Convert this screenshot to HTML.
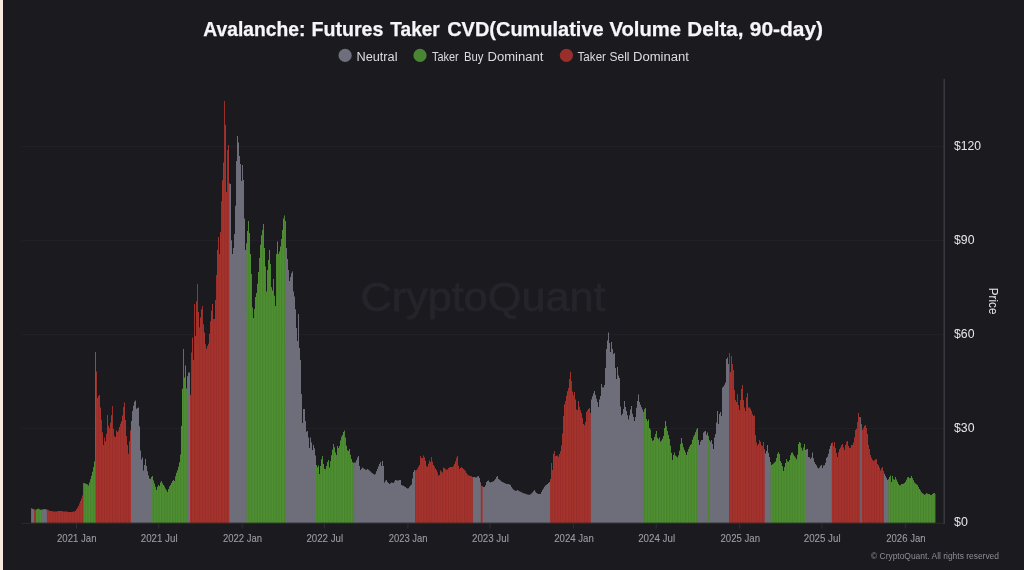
<!DOCTYPE html>
<html lang="en">
<head>
<meta charset="utf-8">
<title>Avalanche: Futures Taker CVD(Cumulative Volume Delta, 90-day)</title>
<style>
html,body{margin:0;padding:0;background:#1b1a1f;overflow:hidden}
body{width:1024px;height:570px;position:relative;font-family:"Liberation Sans",sans-serif}
#strip{position:absolute;left:0;top:0;width:3px;height:570px;background:#f8ece1}
svg{position:absolute;left:0;top:0;display:block}
svg text{font-family:"Liberation Sans",sans-serif}
.n{fill:#6e6e7a}.b{fill:#509132}.s{fill:#a8332e}
.title{font-size:20.5px;font-weight:700;fill:#f6f6f8;stroke:#f6f6f8;stroke-width:.25px}
.leg{font-size:12.5px;fill:#dcdce0}
.xl{font-size:10.9px;fill:#9c9ca3;stroke:#9c9ca3;stroke-width:.1px}
.yl{font-size:12.5px;fill:#e6e6ea}
.wm{font-size:41px;fill:#25242a;stroke:#25242a;stroke-width:0.8px}
.cr{font-size:9.2px;fill:#8c8c94}
.pr{font-size:13px;fill:#e4e4e8}
</style>
</head>
<body>
<div id="strip"></div>
<svg width="1024" height="570" viewBox="0 0 1024 570">
<defs>
<pattern id="st" width="2.73" height="8" patternUnits="userSpaceOnUse"><rect x="0" y="0" width="1.25" height="8" fill="#000" fill-opacity="0.1"/></pattern>
<filter id="bl" x="0" y="0" width="1024" height="570" filterUnits="userSpaceOnUse"><feGaussianBlur stdDeviation="0.4"/></filter>
<filter id="bt" x="0" y="0" width="1024" height="570" filterUnits="userSpaceOnUse"><feGaussianBlur stdDeviation="0.3"/></filter>
<clipPath id="cp"><path d="M34.2 522.8L34.2 509.5H35L35 509.8H35.9V522.8Z M35.9 522.8L35.9 509.8H36L36 509.6H37L37 508.9H38L38 508.5H39L39 509.2H40L40 509.8H41L41 509.8H41.5V522.8Z M46.9 522.8L46.9 509.4H47L47 509.8H48L48 510.2H49L49 510.8H50L50 511.1H51L51 511.1H52L52 511.2H53L53 511.4H54L54 511.4H55L55 511.4H56L56 511.4H57L57 511.2H58L58 511.1H59L59 511.1H60L60 511H61L61 511.1H62L62 511.2H63L63 511.4H64L64 511.4H65L65 511.6H66L66 511.6H67L67 511.8H68L68 511.9H69L69 511.9H70L70 511.9H71L71 511.9H72L72 511.8H73L73 511.6H74L74 511.6H75L75 510.8H76L76 509.2H77L77 507.8H78L78 505.9H79L79 503.6H80L80 501.1H81L81 498.4H82L82 495.5H83L83 483H83.4V522.8Z M83.4 522.8L83.4 483H84L84 483.3H85L85 483.6H86L86 483.9H87L87 484.5H88L88 485.5H89L89 482.5H90L90 479.2H91L91 475.8H92L92 471.7H93L93 467H94L94 461.5H95L95 352H95.6V522.8Z M95.6 522.8L95.6 352H96L96 371.5H97L97 398H98L98 396H99L99 395H100L100 407.5H101L101 419.8H102L102 432.3H103L103 445H104L104 437.5H105L105 441.2H106L106 433.7H107L107 415H108L108 425.7H109L109 428.2H110L110 422.8H111L111 415.3H112L112 406H113L113 429H114L114 436.3H115L115 436.9H116L116 430.6H117L117 431.9H118L118 430.6H119L119 426.9H120L120 423.8H121L121 421.2H122L122 415.6H123L123 406.9H124L124 402.5H125L125 420H126L126 436H127L127 444.9H128L128 453.8H129L129 441.2H130L130 430.3H131V522.8Z M152.2 522.8L152.2 476H153L153 480.5H154L154 483.5H155L155 486.7H156L156 490H157L157 486.7H158L158 485H159L159 485.9H160L160 482.6H161L161 481H162L162 483.2H163L163 484.9H164L164 486.6H165L165 488.4H166L166 490.2H167L167 492H168L168 489H169L169 486.6H170L170 484.9H171L171 483H172L172 481H173L173 480H174L174 481H175L175 476.3H176L176 472.8H177L177 470.2H178L178 466.8H179L179 462.2H180L180 454.5H181L181 426H182L182 388.8H183L183 349H184L184 377.4H185L185 365.6H186L186 388.5H186.9V522.8Z M190 522.8L190 395H191L191 352.5H192L192 337.5H193L193 360H194L194 304H195L195 336H196L196 301.3H197L197 284H198L198 312.1H199L199 327.5H200L200 317.5H201L201 309.2H202L202 306H203L203 324.2H204L204 332.5H205L205 344.2H206L206 348.7H207L207 346H208L208 343.7H209L209 333.8H210L210 321.2H211L211 310.8H212L212 304H213L213 319H214L214 319H215L215 300H216L216 275H217L217 249.7H218L218 237H219L219 254H220L220 232H221L221 201.3H222L222 180.2H223L223 162.6H224L224 101H225L225 124.8H226L226 192H227L227 150H228L228 145H229L229 183.5H229.2V522.8Z M246.6 522.8L246.6 243.5H247L247 231H248L248 221H249L249 233H250L250 254H251L251 274H252L252 307.6H253L253 318H254L254 309H255L255 297H256L256 293H257L257 283.7H258L258 272H259L259 258H260L260 244.7H261L261 235.3H262L262 230H263L263 224H264L264 248H265L265 266.5H266L266 291.5H267L267 270H268L268 260H269L269 250H270L270 264H271L271 287.2H272L272 290.5H273L273 279H274L274 295.8H275L275 306H276L276 254H277L277 241.5H278L278 254H279L279 251.5H280L280 246.5H281L281 239H282L282 230H283L283 218.5H284L284 215.6H285L285 221H285.9V522.8Z M316 522.8L316 465H317L317 467.3H318L318 465.6H319L319 474H320L320 466H321L321 459.3H322L322 456H323L323 464H324L324 468.7H325L325 469.3H326L326 466H327L327 462H328L328 460H329L329 467.5H330L330 461H331L331 455.3H332L332 449.7H333L333 444H334L334 447.3H335L335 452.5H336L336 455H337L337 446H338L338 448H339L339 446.1H340L340 440.4H341L341 436.7H342L342 435H343L343 432.1H344L344 430.6H345L345 437.5H346L346 445.8H347L347 450.3H348L348 451H349L349 449H350L350 454.7H351L351 459H352L352 462H353L353 462.7H354L354 462.8H354.1V522.8Z M415.2 522.8L415.2 470.7H416L416 470.1H417L417 468.4H418L418 466.7H419L419 465H420L420 456H421L421 458H422L422 457.9H423L423 455.6H424L424 457.2H425L425 460.7H426L426 466H427L427 466.7H428L428 463.8H429L429 460.6H430L430 462H431L431 457H432L432 461.7H433L433 464.9H434L434 466.6H435L435 468.4H436L436 470.1H437L437 472.5H438L438 475.5H439L439 474.9H440L440 470.6H441L441 471.6H442L442 472.5H443L443 467.5H444L444 468.2H445L445 469H446L446 469.7H447L447 469.4H448L448 468.1H449L449 467.4H450L450 467.1H451L451 467H452L452 467H453L453 466H454L454 464H455L455 461.2H456L456 457.8H457L457 456H458L458 465.7H459L459 469H460L460 468H461L461 467H462L462 468H463L463 469H464L464 469.7H465L465 471H466L466 473H467L467 474.4H468L468 475.2H469L469 475.7H470L470 475.9H471L471 476.3H472L472 477H472.9V522.8Z M480.8 522.8L480.8 482.3H481L481 485.8H482L482 486.3H482.6V522.8Z M550.1 522.8L550.1 479H551L551 463H552L552 470H553L553 453.7H554L554 451H555L555 456H556L556 455.7H557L557 455.6H558L558 456.7H559L559 454H560L560 451.3H561L561 445.5H562L562 433.5H563L563 416H564L564 404.3H565L565 401H566L566 395.7H567L567 391.3H568L568 388H569L569 379H570L570 371.8H571L571 380.9H572L572 391.5H573L573 395.3H574L574 392H575L575 399.5H576L576 409.5H577L577 410H578L578 401H579L579 406.7H580L580 410.2H581L581 413.3H582L582 418H583L583 424H584L584 425.3H585L585 422H586L586 412H587L587 410.3H588L588 409H589L589 408H590L590 413H590.8V522.8Z M643.4 522.8L643.4 412H644L644 409.3H645L645 408H646L646 419H647L647 421.2H648L648 419.5H649L649 428H650L650 429.5H651L651 438H652L652 440.7H653L653 440.3H654L654 437H655L655 434H656L656 431H657L657 437.7H658L658 439.2H659L659 437.5H660L660 441.5H661L661 440.5H662L662 438.7H663L663 436H664L664 428H665L665 421H666L666 426.3H667L667 431H668L668 435H669L669 439H670L670 445.7H671L671 452.7H672L672 460H673L673 455H674L674 452.5H675L675 455.6H676L676 456.6H677L677 457.5H678L678 455.2H679L679 450.7H680L680 444H681L681 438H682L682 443.3H683L683 447.3H684L684 450H685L685 452.5H686L686 455H687L687 451.7H688L688 448.9H689L689 446.7H690L690 445.1H691L691 444H692L692 439.7H693L693 436.7H694L694 435H695L695 432.3H696L696 429.5H697L697 428H697.5V522.8Z M708.1 522.8L708.1 436H709L709 440.3H709.2V522.8Z M729.2 522.8L729.2 353H730L730 372H731L731 356H732L732 364H733L733 370H734L734 390H735L735 400H736L736 402H737L737 394H738L738 405H739L739 410H740L740 400H741L741 389H742L742 385H743L743 400H744L744 407.5H745L745 411H746L746 397.5H747L747 393H748L748 407.5H749L749 407.5H750L750 408.7H751L751 411H752L752 414.3H753L753 415.9H754L754 415.6H755L755 435H756L756 442.5H757L757 445.6H758L758 444H759L759 440H760L760 441.7H761L761 445.2H762L762 446H763L763 442H764L764 449.3H764.7V522.8Z M770.7 522.8L770.7 462H771L771 465H772L772 464.3H773L773 463.5H774L774 462.5H775L775 461.5H776L776 458H777L777 453.8H778L778 452H779L779 454H780L780 461H781L781 463H782L782 466.3H783L783 471H784L784 467H785L785 463H786L786 459H787L787 461.3H788L788 461.7H789L789 460H790L790 455.3H791L791 452.8H792L792 452.5H793L793 454.6H794L794 456.2H795L795 457.5H796L796 459.2H797L797 454.7H798L798 444H799L799 442H800L800 443H801L801 447.7H802L802 450.5H803L803 447.5H804L804 444H804.9V522.8Z M831.8 522.8L831.8 443.2H832L832 442.5H833L833 446H834L834 442H835L835 448H836L836 453H837L837 457H838L838 452.3H839L839 449.2H840L840 447.5H841L841 445.2H842L842 444H843L843 447.5H844L844 450H845L845 445H846L846 441.8H847L847 441H848L848 446H849L849 448H850L850 447.7H851L851 445H852L852 445H853L853 442.5H854L854 437.5H855L855 430H856L856 428.7H857L857 422H858L858 413H859L859 417H860L860 417.3H860.2V522.8Z M861.6 522.8L861.6 424.2H862L862 430H863L863 428H864L864 426H865L865 425H866L866 428H867L867 434H868L868 445H869L869 449H870L870 455H871L871 457.7H872L872 459.7H873L873 461H874L874 460.3H875L875 459.5H876L876 459H877L877 464H878L878 465.3H879L879 467.5H880L880 470.5H881L881 468.2H882L882 467H883L883 471H884V522.8Z M888.4 522.8L888.4 479.2H889L889 476.9H890L890 475.6H891L891 482H892L892 476H893L893 479.3H894L894 479.7H895L895 477H896L896 479.4H897L897 481.7H898L898 484H899L899 485.3H900L900 485.3H901L901 484H902L902 484H903L903 483.7H904L904 483H905L905 481.7H906L906 479.8H907L907 477.5H908L908 477H909L909 478.3H910L910 478H911L911 476H912L912 478H913L913 480.2H914L914 482.5H915L915 483.5H916L916 484.3H917L917 485H918L918 487H919L919 488.9H920L920 490.6H921L921 492.2H922L922 493.3H923L923 494H924L924 494.7H925L925 494.3H926L926 493H927L927 493.7H928L928 494H929L929 494H930L930 495.1H931L931 495.1H932L932 494H933L933 493.3H934L934 493H935L935 493.9H935.4V522.8Z"/></clipPath>
</defs>
<path d="M22 146.4H944M22 240.4H944M22 334.3H944M22 428.3H944" stroke="#232228" stroke-width="1" fill="none"/>
<text class="wm" x="360.6" y="311.2" textLength="245" lengthAdjust="spacingAndGlyphs">CryptoQuant</text>
<g filter="url(#bl)">
<g id="bars">
<path class="n" d="M31.1 522.8L31.1 508.2H32L32 508.8H33L33 509.2H34L34 509.5H34.7V522.8Z"/>
<path class="s" d="M34.2 522.8L34.2 509.5H35L35 509.8H36L36 509.6H36.4V522.8Z"/>
<path class="b" d="M35.9 522.8L35.9 509.8H36L36 509.6H37L37 508.9H38L38 508.5H39L39 509.2H40L40 509.8H41L41 509.8H42V522.8Z"/>
<path class="n" d="M41.5 522.8L41.5 509.8H42L42 509.5H43L43 509.2H44L44 509H45L45 509.2H46L46 509.4H47L47 509.8H47.4V522.8Z"/>
<path class="s" d="M46.9 522.8L46.9 509.4H47L47 509.8H48L48 510.2H49L49 510.8H50L50 511.1H51L51 511.1H52L52 511.2H53L53 511.4H54L54 511.4H55L55 511.4H56L56 511.4H57L57 511.2H58L58 511.1H59L59 511.1H60L60 511H61L61 511.1H62L62 511.2H63L63 511.4H64L64 511.4H65L65 511.6H66L66 511.6H67L67 511.8H68L68 511.9H69L69 511.9H70L70 511.9H71L71 511.9H72L72 511.8H73L73 511.6H74L74 511.6H75L75 510.8H76L76 509.2H77L77 507.8H78L78 505.9H79L79 503.6H80L80 501.1H81L81 498.4H82L82 495.5H83L83 483H83.9V522.8Z"/>
<path class="b" d="M83.4 522.8L83.4 483H84L84 483.3H85L85 483.6H86L86 483.9H87L87 484.5H88L88 485.5H89L89 482.5H90L90 479.2H91L91 475.8H92L92 471.7H93L93 467H94L94 461.5H95L95 352H96L96 371.5H96.1V522.8Z"/>
<path class="s" d="M95.6 522.8L95.6 352H96L96 371.5H97L97 398H98L98 396H99L99 395H100L100 407.5H101L101 419.8H102L102 432.3H103L103 445H104L104 437.5H105L105 441.2H106L106 433.7H107L107 415H108L108 425.7H109L109 428.2H110L110 422.8H111L111 415.3H112L112 406H113L113 429H114L114 436.3H115L115 436.9H116L116 430.6H117L117 431.9H118L118 430.6H119L119 426.9H120L120 423.8H121L121 421.2H122L122 415.6H123L123 406.9H124L124 402.5H125L125 420H126L126 436H127L127 444.9H128L128 453.8H129L129 441.2H130L130 430.3H131L131 421H131.5V522.8Z"/>
<path class="n" d="M131 522.8L131 421H132L132 411H133L133 405.7H134L134 401.8H135L135 400.6H136L136 408.8H137L137 407.9H138L138 407.5H139L139 426.2H140L140 450.5H141L141 459.5H142L142 457.5H143L143 470.6H144L144 465H145L145 459H146L146 466H147L147 471.3H148L148 475.5H149L149 478.5H150L150 479H151L151 477H152L152 476H152.8V522.8Z"/>
<path class="b" d="M152.2 522.8L152.2 476H153L153 480.5H154L154 483.5H155L155 486.7H156L156 490H157L157 486.7H158L158 485H159L159 485.9H160L160 482.6H161L161 481H162L162 483.2H163L163 484.9H164L164 486.6H165L165 488.4H166L166 490.2H167L167 492H168L168 489H169L169 486.6H170L170 484.9H171L171 483H172L172 481H173L173 480H174L174 481H175L175 476.3H176L176 472.8H177L177 470.2H178L178 466.8H179L179 462.2H180L180 454.5H181L181 426H182L182 388.8H183L183 349H184L184 377.4H185L185 365.6H186L186 388.5H187L187 376.3H187.4V522.8Z"/>
<path class="n" d="M186.9 522.8L186.9 388.5H187L187 376.3H188L188 372.5H189L189 372.5H190L190 395H190.5V522.8Z"/>
<path class="s" d="M190 522.8L190 395H191L191 352.5H192L192 337.5H193L193 360H194L194 304H195L195 336H196L196 301.3H197L197 284H198L198 312.1H199L199 327.5H200L200 317.5H201L201 309.2H202L202 306H203L203 324.2H204L204 332.5H205L205 344.2H206L206 348.7H207L207 346H208L208 343.7H209L209 333.8H210L210 321.2H211L211 310.8H212L212 304H213L213 319H214L214 319H215L215 300H216L216 275H217L217 249.7H218L218 237H219L219 254H220L220 232H221L221 201.3H222L222 180.2H223L223 162.6H224L224 101H225L225 124.8H226L226 192H227L227 150H228L228 145H229L229 183.5H229.7V522.8Z"/>
<path class="n" d="M229.2 522.8L229.2 183.5H230L230 184H231L231 240.2H232L232 254H233L233 248H234L234 234H235L235 205.7H236L236 161H237L237 136H238L238 142.5H239L239 156H240L240 164H241L241 181H242L242 165H243L243 180H244L244 218.5H245L245 250H246L246 243.5H247L247 231H247.1V522.8Z"/>
<path class="b" d="M246.6 522.8L246.6 243.5H247L247 231H248L248 221H249L249 233H250L250 254H251L251 274H252L252 307.6H253L253 318H254L254 309H255L255 297H256L256 293H257L257 283.7H258L258 272H259L259 258H260L260 244.7H261L261 235.3H262L262 230H263L263 224H264L264 248H265L265 266.5H266L266 291.5H267L267 270H268L268 260H269L269 250H270L270 264H271L271 287.2H272L272 290.5H273L273 279H274L274 295.8H275L275 306H276L276 254H277L277 241.5H278L278 254H279L279 251.5H280L280 246.5H281L281 239H282L282 230H283L283 218.5H284L284 215.6H285L285 221H286L286 248H286.4V522.8Z"/>
<path class="n" d="M285.9 522.8L285.9 221H286L286 248H287L287 259H288L288 270H289L289 281H290L290 277H291L291 273.2H292L292 271.5H293L293 291.5H294L294 296.5H295L295 309.3H296L296 328H297L297 341H298L298 314H299L299 348H300L300 360H301L301 394H302L302 423H303L303 409H304L304 409H305L305 421H306L306 431.7H307L307 431H308L308 437.5H309L309 448H310L310 437.5H311L311 442.5H312L312 450H313L313 445H314L314 448.3H315L315 455.5H316L316 465H316.5V522.8Z"/>
<path class="b" d="M316 522.8L316 465H317L317 467.3H318L318 465.6H319L319 474H320L320 466H321L321 459.3H322L322 456H323L323 464H324L324 468.7H325L325 469.3H326L326 466H327L327 462H328L328 460H329L329 467.5H330L330 461H331L331 455.3H332L332 449.7H333L333 444H334L334 447.3H335L335 452.5H336L336 455H337L337 446H338L338 448H339L339 446.1H340L340 440.4H341L341 436.7H342L342 435H343L343 432.1H344L344 430.6H345L345 437.5H346L346 445.8H347L347 450.3H348L348 451H349L349 449H350L350 454.7H351L351 459H352L352 462H353L353 462.7H354L354 462.8H354.6V522.8Z"/>
<path class="n" d="M354.1 522.8L354.1 462.8H355L355 462.5H356L356 460.2H357L357 457.5H358L358 456H359L359 466H360L360 470H361L361 468.8H362L362 467.5H363L363 468.2H364L364 469H365L365 469.7H366L366 469.7H367L367 469H368L368 469.8H369L369 470.6H370L370 471.5H371L371 472.5H372L372 473.3H373L373 474H374L374 474.7H375L375 473.8H376L376 471.2H377L377 468.8H378L378 466.2H379L379 464H380L380 462H381L381 466H382L382 461H383L383 466H384L384 482.5H385L385 480.8H386L386 480H387L387 481.9H388L388 483H389L389 484H390L390 483.2H391L391 482.5H392L392 482.8H393L393 483H394L394 481.5H395L395 480H396L396 480.2H397L397 480.5H398L398 480.5H399L399 480.1H400L400 480H401L401 485H402L402 485.4H403L403 485.8H404L404 486.4H405L405 487.1H406L406 487.9H407L407 488.6H408L408 488.2H409L409 486.8H410L410 485.5H411L411 484.5H412L412 478.5H413L413 472H414L414 470H415L415 470.7H415.7V522.8Z"/>
<path class="s" d="M415.2 522.8L415.2 470.7H416L416 470.1H417L417 468.4H418L418 466.7H419L419 465H420L420 456H421L421 458H422L422 457.9H423L423 455.6H424L424 457.2H425L425 460.7H426L426 466H427L427 466.7H428L428 463.8H429L429 460.6H430L430 462H431L431 457H432L432 461.7H433L433 464.9H434L434 466.6H435L435 468.4H436L436 470.1H437L437 472.5H438L438 475.5H439L439 474.9H440L440 470.6H441L441 471.6H442L442 472.5H443L443 467.5H444L444 468.2H445L445 469H446L446 469.7H447L447 469.4H448L448 468.1H449L449 467.4H450L450 467.1H451L451 467H452L452 467H453L453 466H454L454 464H455L455 461.2H456L456 457.8H457L457 456H458L458 465.7H459L459 469H460L460 468H461L461 467H462L462 468H463L463 469H464L464 469.7H465L465 471H466L466 473H467L467 474.4H468L468 475.2H469L469 475.7H470L470 475.9H471L471 476.3H472L472 477H473L473 477H473.4V522.8Z"/>
<path class="n" d="M472.9 522.8L472.9 477H473L473 477H474L474 477.1H475L475 477.4H476L476 477.2H477L477 476.6H478L478 476H479L479 478H480L480 482.3H481L481 485.8H481.2V522.8Z"/>
<path class="s" d="M480.8 522.8L480.8 482.3H481L481 485.8H482L482 486.3H483L483 487H483.1V522.8Z"/>
<path class="n" d="M482.6 522.8L482.6 486.3H483L483 487H484L484 487H485L485 485.3H486L486 482H487L487 481.1H488L488 480.6H489L489 482H490L490 482.4H491L491 482.1H492L492 481.8H493L493 481.2H494L494 480.3H495L495 479H496L496 477H497L497 476H498L498 479H499L499 479.7H500L500 480.5H501L501 481.5H502L502 482.1H503L503 482.4H504L504 482.9H505L505 483.6H506L506 484H507L507 484H508L508 484H509L509 484.5H510L510 485H511L511 487H512L512 488.5H513L513 489.5H514L514 490.2H515L515 490.8H516L516 490.7H517L517 490H518L518 490.7H519L519 491.2H520L520 491.8H521L521 492.2H522L522 492.8H523L523 493.2H524L524 493.5H525L525 493.8H526L526 494.2H527L527 494.5H528L528 494.8H529L529 494.8H530L530 494.2H531L531 493.5H532L532 492.5H533L533 491.3H534L534 490H535L535 491.7H536L536 492.9H537L537 493.6H538L538 494H539L539 494H540L540 494H541L541 492H542L542 490H543L543 488.4H544L544 486.8H545L545 485.6H546L546 484.8H547L547 484H548L548 483H549L549 482H550L550 479H550.6V522.8Z"/>
<path class="s" d="M550.1 522.8L550.1 479H551L551 463H552L552 470H553L553 453.7H554L554 451H555L555 456H556L556 455.7H557L557 455.6H558L558 456.7H559L559 454H560L560 451.3H561L561 445.5H562L562 433.5H563L563 416H564L564 404.3H565L565 401H566L566 395.7H567L567 391.3H568L568 388H569L569 379H570L570 371.8H571L571 380.9H572L572 391.5H573L573 395.3H574L574 392H575L575 399.5H576L576 409.5H577L577 410H578L578 401H579L579 406.7H580L580 410.2H581L581 413.3H582L582 418H583L583 424H584L584 425.3H585L585 422H586L586 412H587L587 410.3H588L588 409H589L589 408H590L590 413H591L591 399.5H591.3V522.8Z"/>
<path class="n" d="M590.8 522.8L590.8 413H591L591 399.5H592L592 396.2H593L593 393.3H594L594 391H595L595 395H596L596 398.7H597L597 402H598L598 407H599L599 399.5H600L600 396H601L601 384H602L602 387.3H603L603 387.5H604L604 385H605L605 368H606L606 349H607L607 340.5H608L608 332.4H609L609 343H610L610 352H611L611 342H612L612 349H613L613 354H614L614 353H615L615 368H616L616 379H617L617 367H618L618 375.5H619L619 378H620L620 406.5H621L621 415.2H622L622 413.8H623L623 409H624L624 401H625L625 407H626L626 411H627L627 415.2H628L628 419.5H629L629 415.2H630L630 409.5H631L631 406H632L632 413.7H633L633 417H634L634 421H635L635 417H636L636 407.7H637L637 401H638L638 394.5H639L639 402H640L640 404.7H641L641 407.2H642L642 409.5H643L643 412H643.9V522.8Z"/>
<path class="b" d="M643.4 522.8L643.4 412H644L644 409.3H645L645 408H646L646 419H647L647 421.2H648L648 419.5H649L649 428H650L650 429.5H651L651 438H652L652 440.7H653L653 440.3H654L654 437H655L655 434H656L656 431H657L657 437.7H658L658 439.2H659L659 437.5H660L660 441.5H661L661 440.5H662L662 438.7H663L663 436H664L664 428H665L665 421H666L666 426.3H667L667 431H668L668 435H669L669 439H670L670 445.7H671L671 452.7H672L672 460H673L673 455H674L674 452.5H675L675 455.6H676L676 456.6H677L677 457.5H678L678 455.2H679L679 450.7H680L680 444H681L681 438H682L682 443.3H683L683 447.3H684L684 450H685L685 452.5H686L686 455H687L687 451.7H688L688 448.9H689L689 446.7H690L690 445.1H691L691 444H692L692 439.7H693L693 436.7H694L694 435H695L695 432.3H696L696 429.5H697L697 428H698V522.8Z"/>
<path class="n" d="M697.5 522.8L697.5 428H698L698 440H699L699 445H700L700 441.7H701L701 440H702L702 440H703L703 432.5H704L704 431.5H705L705 431H706L706 434.8H707L707 432.5H708L708 436H708.6V522.8Z"/>
<path class="b" d="M708.1 522.8L708.1 436H709L709 440.3H709.7V522.8Z"/>
<path class="n" d="M709.2 522.8L709.2 440.3H710L710 441.7H711L711 440H712L712 444H713L713 449H714L714 437.5H715L715 434H716L716 422.5H717L717 411H718L718 424H719L719 414H720L720 412H721L721 416H722L722 387.5H723L723 386.5H724L724 384.8H725L725 382.5H726L726 359H727L727 357.5H728L728 364H729L729 353H729.7V522.8Z"/>
<path class="s" d="M729.2 522.8L729.2 353H730L730 372H731L731 356H732L732 364H733L733 370H734L734 390H735L735 400H736L736 402H737L737 394H738L738 405H739L739 410H740L740 400H741L741 389H742L742 385H743L743 400H744L744 407.5H745L745 411H746L746 397.5H747L747 393H748L748 407.5H749L749 407.5H750L750 408.7H751L751 411H752L752 414.3H753L753 415.9H754L754 415.6H755L755 435H756L756 442.5H757L757 445.6H758L758 444H759L759 440H760L760 441.7H761L761 445.2H762L762 446H763L763 442H764L764 449.3H765L765 453.5H765.2V522.8Z"/>
<path class="n" d="M764.7 522.8L764.7 449.3H765L765 453.5H766L766 451H767L767 445H768L768 453H769L769 457H770L770 462H771L771 465H771.2V522.8Z"/>
<path class="b" d="M770.7 522.8L770.7 462H771L771 465H772L772 464.3H773L773 463.5H774L774 462.5H775L775 461.5H776L776 458H777L777 453.8H778L778 452H779L779 454H780L780 461H781L781 463H782L782 466.3H783L783 471H784L784 467H785L785 463H786L786 459H787L787 461.3H788L788 461.7H789L789 460H790L790 455.3H791L791 452.8H792L792 452.5H793L793 454.6H794L794 456.2H795L795 457.5H796L796 459.2H797L797 454.7H798L798 444H799L799 442H800L800 443H801L801 447.7H802L802 450.5H803L803 447.5H804L804 444H805L805 450H805.4V522.8Z"/>
<path class="n" d="M804.9 522.8L804.9 444H805L805 450H806L806 449.3H807L807 449H808L808 457H809L809 457.3H810L810 458.8H811L811 457.5H812L812 452.5H813L813 458.2H814L814 462H815L815 464H816L816 465.3H817L817 467.5H818L818 468.5H819L819 467.5H820L820 465.8H821L821 465H822L822 467.9H823L823 465.6H824L824 465.2H825L825 462.7H826L826 458H827L827 456.7H828L828 453.7H829L829 449H830L830 445.7H831L831 443.2H832L832 442.5H832.2V522.8Z"/>
<path class="s" d="M831.8 522.8L831.8 443.2H832L832 442.5H833L833 446H834L834 442H835L835 448H836L836 453H837L837 457H838L838 452.3H839L839 449.2H840L840 447.5H841L841 445.2H842L842 444H843L843 447.5H844L844 450H845L845 445H846L846 441.8H847L847 441H848L848 446H849L849 448H850L850 447.7H851L851 445H852L852 445H853L853 442.5H854L854 437.5H855L855 430H856L856 428.7H857L857 422H858L858 413H859L859 417H860L860 417.3H860.7V522.8Z"/>
<path class="n" d="M860.2 522.8L860.2 417.3H861L861 424.2H862L862 430H862.1V522.8Z"/>
<path class="s" d="M861.6 522.8L861.6 424.2H862L862 430H863L863 428H864L864 426H865L865 425H866L866 428H867L867 434H868L868 445H869L869 449H870L870 455H871L871 457.7H872L872 459.7H873L873 461H874L874 460.3H875L875 459.5H876L876 459H877L877 464H878L878 465.3H879L879 467.5H880L880 470.5H881L881 468.2H882L882 467H883L883 471H884L884 473.7H884.5V522.8Z"/>
<path class="n" d="M884 522.8L884 473.7H885L885 476H886L886 478H887L887 480H888L888 479.2H888.9V522.8Z"/>
<path class="b" d="M888.4 522.8L888.4 479.2H889L889 476.9H890L890 475.6H891L891 482H892L892 476H893L893 479.3H894L894 479.7H895L895 477H896L896 479.4H897L897 481.7H898L898 484H899L899 485.3H900L900 485.3H901L901 484H902L902 484H903L903 483.7H904L904 483H905L905 481.7H906L906 479.8H907L907 477.5H908L908 477H909L909 478.3H910L910 478H911L911 476H912L912 478H913L913 480.2H914L914 482.5H915L915 483.5H916L916 484.3H917L917 485H918L918 487H919L919 488.9H920L920 490.6H921L921 492.2H922L922 493.3H923L923 494H924L924 494.7H925L925 494.3H926L926 493H927L927 493.7H928L928 494H929L929 494H930L930 495.1H931L931 495.1H932L932 494H933L933 493.3H934L934 493H935L935 493.9H935.4V522.8Z"/>
</g>
<rect x="30" y="90" width="910" height="433" fill="url(#st)" clip-path="url(#cp)"/>
</g>
<path d="M22 523.4H944.9" stroke="#2b2b31" stroke-width="1" fill="none"/>
<path d="M944.2 79V524" stroke="#3b3b43" stroke-width="1.4" fill="none"/>
<path d="M76.5 523v5.5M158.7 523v5.5M242.2 523v5.5M324.4 523v5.5M407.9 523v5.5M490 523v5.5M573.6 523v5.5M656.2 523v5.5M739.7 523v5.5M821.9 523v5.5M905.4 523v5.5" stroke="#2e2e35" stroke-width="1" fill="none"/>
<g filter="url(#bt)">
<circle cx="345.1" cy="55.4" r="6.6" fill="#6e6e7b"/>
<circle cx="420" cy="55.4" r="6.6" fill="#4a8531"/>
<circle cx="566.4" cy="55.4" r="6.6" fill="#9a2f2b"/>
<text class="title"><tspan x="203.36" y="35.9" textLength="102.07" lengthAdjust="spacingAndGlyphs">Avalanche:</tspan> <tspan x="311.45" y="35.9" textLength="71.98" lengthAdjust="spacingAndGlyphs">Futures</tspan> <tspan x="390.36" y="35.9" textLength="49.38" lengthAdjust="spacingAndGlyphs">Taker</tspan> <tspan x="447.18" y="35.9" textLength="156.44" lengthAdjust="spacingAndGlyphs">CVD(Cumulative</tspan> <tspan x="609.45" y="35.9" textLength="71.66" lengthAdjust="spacingAndGlyphs">Volume</tspan> <tspan x="687.38" y="35.9" textLength="56.02" lengthAdjust="spacingAndGlyphs">Delta,</tspan> <tspan x="749.77" y="35.9" textLength="73.30" lengthAdjust="spacingAndGlyphs">90-day)</tspan></text>
<text class="leg" x="356.45" y="61" textLength="41.08" lengthAdjust="spacingAndGlyphs">Neutral</text>
<text class="leg"><tspan x="432.00" y="61" textLength="26.76" lengthAdjust="spacingAndGlyphs">Taker</tspan> <tspan x="463.95" y="61" textLength="19.55" lengthAdjust="spacingAndGlyphs">Buy</tspan> <tspan x="487.48" y="61" textLength="56.02" lengthAdjust="spacingAndGlyphs">Dominant</tspan></text>
<text class="leg"><tspan x="577.50" y="61" textLength="28.50" lengthAdjust="spacingAndGlyphs">Taker</tspan> <tspan x="609.45" y="61" textLength="20.08" lengthAdjust="spacingAndGlyphs">Sell</tspan> <tspan x="632.99" y="61" textLength="56.02" lengthAdjust="spacingAndGlyphs">Dominant</tspan></text>
<text class="xl" x="57.00" y="542" textLength="39.46" lengthAdjust="spacingAndGlyphs">2021 Jan</text>
<text class="xl" x="140.72" y="542" textLength="36.86" lengthAdjust="spacingAndGlyphs">2021 Jul</text>
<text class="xl" x="223.00" y="542" textLength="39.00" lengthAdjust="spacingAndGlyphs">2022 Jan</text>
<text class="xl" x="306.40" y="542" textLength="36.68" lengthAdjust="spacingAndGlyphs">2022 Jul</text>
<text class="xl" x="388.72" y="542" textLength="38.80" lengthAdjust="spacingAndGlyphs">2023 Jan</text>
<text class="xl" x="472.00" y="542" textLength="36.80" lengthAdjust="spacingAndGlyphs">2023 Jul</text>
<text class="xl" x="554.22" y="542" textLength="39.59" lengthAdjust="spacingAndGlyphs">2024 Jan</text>
<text class="xl" x="638.18" y="542" textLength="36.91" lengthAdjust="spacingAndGlyphs">2024 Jul</text>
<text class="xl" x="720.49" y="542" textLength="39.56" lengthAdjust="spacingAndGlyphs">2025 Jan</text>
<text class="xl" x="803.72" y="542" textLength="36.86" lengthAdjust="spacingAndGlyphs">2025 Jul</text>
<text class="xl" x="886.22" y="542" textLength="39.32" lengthAdjust="spacingAndGlyphs">2026 Jan</text>
<text class="yl" x="954.00" y="149.6" textLength="27.00" lengthAdjust="spacingAndGlyphs">$120</text>
<text class="yl" x="954.05" y="243.6" textLength="20.45" lengthAdjust="spacingAndGlyphs">$90</text>
<text class="yl" x="954.05" y="337.5" textLength="20.45" lengthAdjust="spacingAndGlyphs">$60</text>
<text class="yl" x="954.05" y="431.5" textLength="20.45" lengthAdjust="spacingAndGlyphs">$30</text>
<text class="yl" x="954.08" y="525.6" textLength="13.80" lengthAdjust="spacingAndGlyphs">$0</text>
<text class="cr" x="871.00" y="559.1" textLength="128.00" lengthAdjust="spacingAndGlyphs">© CryptoQuant. All rights reserved</text>
<text class="pr" transform="translate(988.8 287.8) rotate(90)" textLength="26.6" lengthAdjust="spacingAndGlyphs">Price</text>
</g>
</svg>
</body>
</html>
